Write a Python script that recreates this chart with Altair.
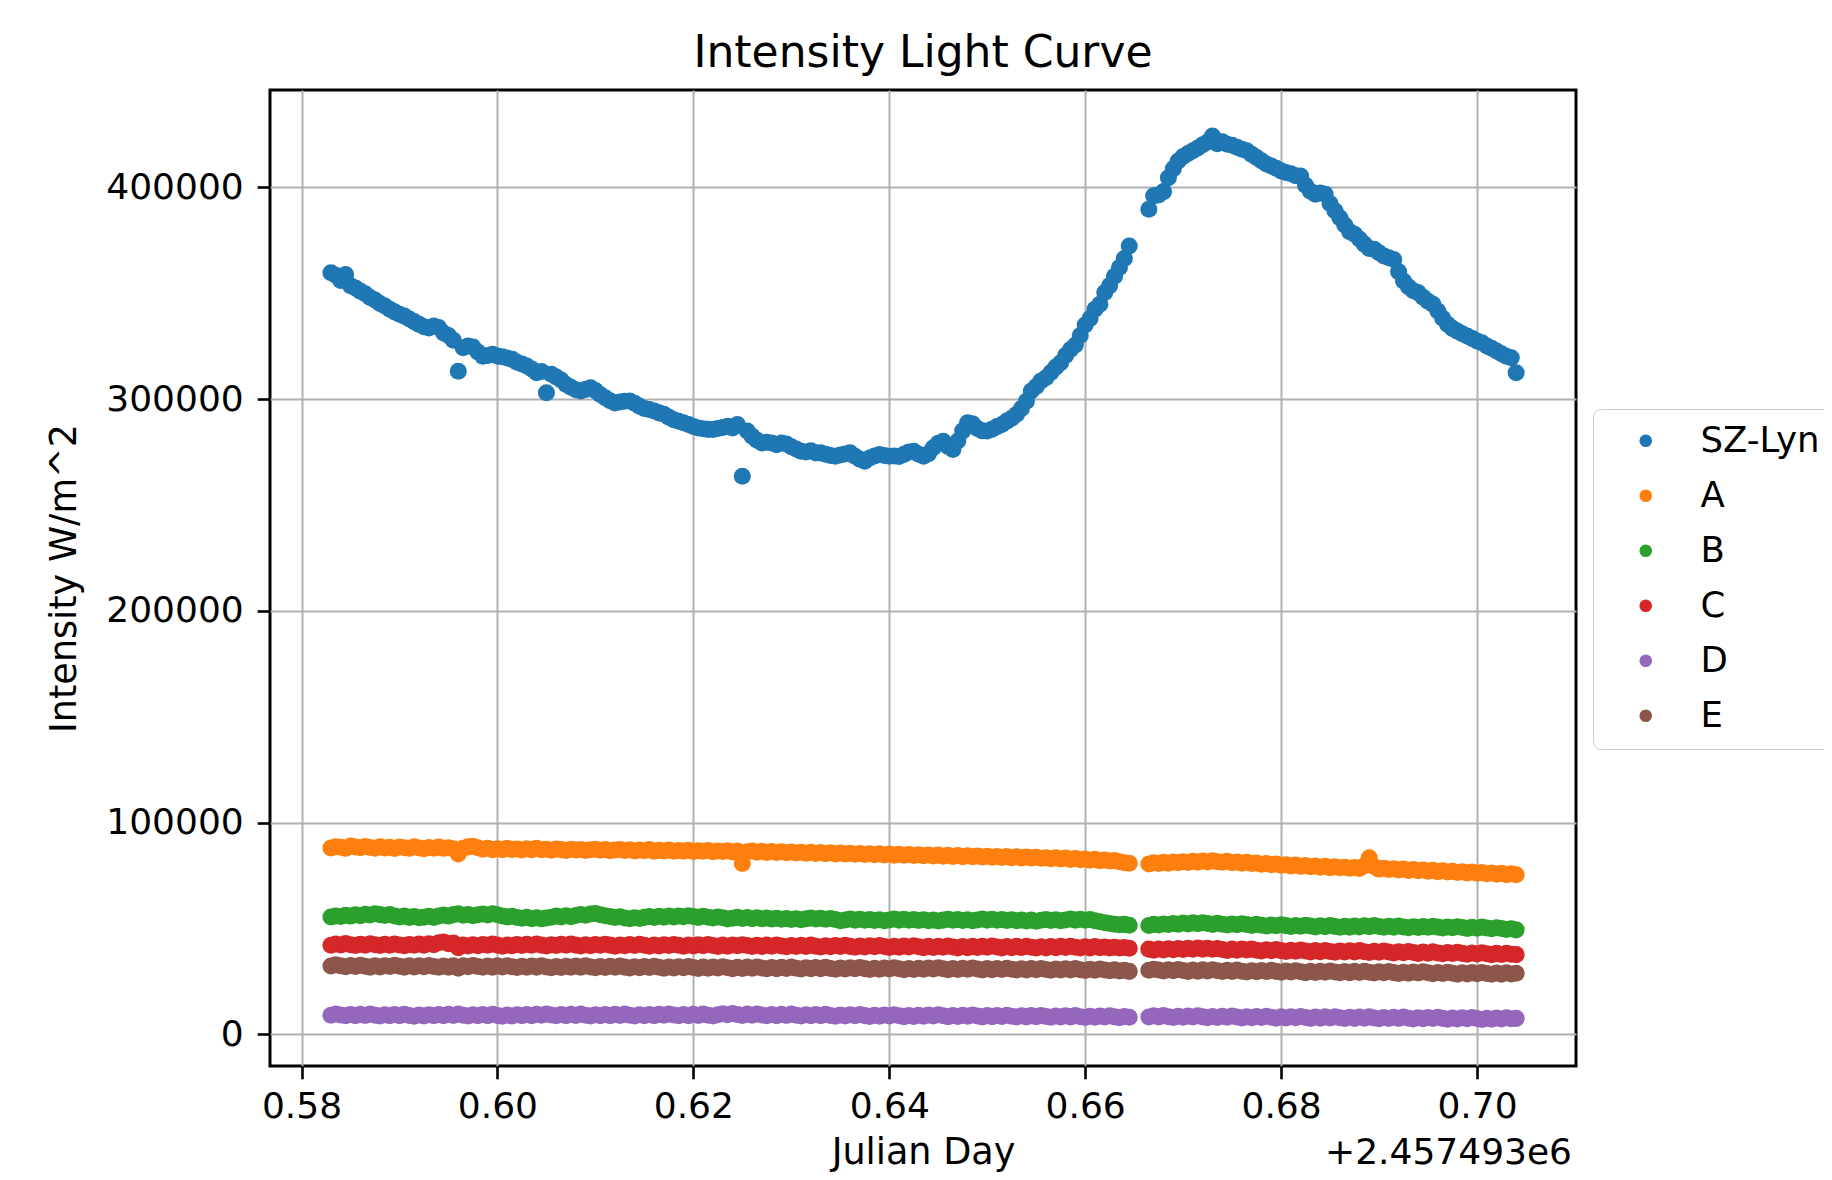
import altair as alt
import pandas as pd

FONT = "DejaVu Sans"

title_text = "Intensity Light Curve"
x_title = "Julian Day"
y_title = "Intensity W/m^2"
offset_label = "+2.457493e6"

series_names = ["SZ-Lyn", "A", "B", "C", "D", "E"]
series_colors = ["#1f77b4", "#ff7f0e", "#2ca02c", "#d62728", "#9467bd", "#8c564b"]

x_ticks = [0.58, 0.60, 0.62, 0.64, 0.66, 0.68, 0.70]
y_ticks = [0, 100000, 200000, 300000, 400000]

# Julian day minus 2457493
julian_day = [
    0.5830, 0.5835, 0.5840, 0.5845, 0.5850, 0.5855, 0.5860, 0.5865, 0.5870, 0.5875,
    0.5880, 0.5885, 0.5890, 0.5895, 0.5900, 0.5905, 0.5910, 0.5915, 0.5920, 0.5925,
    0.5930, 0.5935, 0.5940, 0.5945, 0.5950, 0.5955, 0.5960, 0.5965, 0.5970, 0.5975,
    0.5980, 0.5985, 0.5990, 0.5995, 0.6000, 0.6005, 0.6010, 0.6015, 0.6020, 0.6025,
    0.6030, 0.6035, 0.6040, 0.6045, 0.6050, 0.6055, 0.6060, 0.6065, 0.6070, 0.6075,
    0.6080, 0.6085, 0.6090, 0.6095, 0.6100, 0.6105, 0.6110, 0.6115, 0.6120, 0.6125,
    0.6130, 0.6135, 0.6140, 0.6145, 0.6150, 0.6155, 0.6160, 0.6165, 0.6170, 0.6175,
    0.6180, 0.6185, 0.6190, 0.6195, 0.6200, 0.6205, 0.6210, 0.6215, 0.6220, 0.6225,
    0.6230, 0.6235, 0.6240, 0.6245, 0.6250, 0.6255, 0.6260, 0.6265, 0.6270, 0.6275,
    0.6280, 0.6285, 0.6290, 0.6295, 0.6300, 0.6305, 0.6310, 0.6315, 0.6320, 0.6325,
    0.6330, 0.6335, 0.6340, 0.6345, 0.6350, 0.6355, 0.6360, 0.6365, 0.6370, 0.6375,
    0.6380, 0.6385, 0.6390, 0.6395, 0.6400, 0.6405, 0.6410, 0.6415, 0.6420, 0.6425,
    0.6430, 0.6435, 0.6440, 0.6445, 0.6450, 0.6455, 0.6460, 0.6465, 0.6470, 0.6475,
    0.6480, 0.6485, 0.6490, 0.6495, 0.6500, 0.6505, 0.6510, 0.6515, 0.6520, 0.6525,
    0.6530, 0.6535, 0.6540, 0.6545, 0.6550, 0.6555, 0.6560, 0.6565, 0.6570, 0.6575,
    0.6580, 0.6585, 0.6590, 0.6595, 0.6600, 0.6605, 0.6610, 0.6615, 0.6620, 0.6625,
    0.6630, 0.6635, 0.6640, 0.6645,
    0.6665, 0.6670, 0.6675, 0.6680, 0.6685, 0.6690, 0.6695, 0.6700, 0.6705, 0.6710,
    0.6715, 0.6720, 0.6725, 0.6730, 0.6735, 0.6740, 0.6745, 0.6750, 0.6755, 0.6760,
    0.6765, 0.6770, 0.6775, 0.6780, 0.6785, 0.6790, 0.6795, 0.6800, 0.6805, 0.6810,
    0.6815, 0.6820, 0.6825, 0.6830, 0.6835, 0.6840, 0.6845, 0.6850, 0.6855, 0.6860,
    0.6865, 0.6870, 0.6875, 0.6880, 0.6885, 0.6890, 0.6895, 0.6900, 0.6905, 0.6910,
    0.6915, 0.6920, 0.6925, 0.6930, 0.6935, 0.6940, 0.6945, 0.6950, 0.6955, 0.6960,
    0.6965, 0.6970, 0.6975, 0.6980, 0.6985, 0.6990, 0.6995, 0.7000, 0.7005, 0.7010,
    0.7015, 0.7020, 0.7025, 0.7030, 0.7035, 0.7040,
]

# intensities in thousands of W/m^2
sz_lyn = [
    359.7, 358.5, 356.0, 358.8, 353.5, 352.5, 351.0, 349.8, 348.0, 346.8,
    345.2, 344.0, 342.4, 341.2, 340.1, 339.2, 337.8, 336.6, 335.3, 334.2,
    333.6, 334.5, 333.8, 331.2, 330.0, 327.8, 313.2, 324.3, 325.1, 324.6,
    322.2, 320.3, 320.6, 321.2, 320.3, 320.0, 319.4, 318.8, 317.4, 316.6,
    315.6, 314.2, 312.4, 313.0, 303.0, 311.7, 310.4, 309.0, 306.9, 305.6,
    304.4, 303.8, 304.6, 305.3, 304.0, 302.2, 300.6, 299.2, 298.2, 298.6,
    299.0, 299.1, 298.0, 296.6, 295.6, 295.1, 294.4, 293.5, 292.8, 291.4,
    290.2, 289.5, 288.8, 288.0, 287.1, 286.4, 286.0, 285.7, 285.6, 286.1,
    286.6, 287.2, 286.4, 288.0, 263.6, 284.9, 282.5, 280.6, 279.3, 279.6,
    279.3, 278.4, 279.3, 278.8, 277.5, 276.4, 275.4, 275.0, 275.6, 274.6,
    274.6, 274.0, 273.4, 273.0, 273.6, 274.1, 274.6, 273.0, 271.6, 270.7,
    272.2, 273.1, 273.8, 273.4, 273.0, 273.1, 272.9, 273.9, 275.0, 275.4,
    274.0, 273.0, 274.2, 277.0, 279.1, 280.1, 277.6, 276.2, 280.2, 285.0,
    288.8, 288.4, 286.1, 285.0, 284.9, 285.8, 287.0, 288.0, 289.6, 291.0,
    292.8, 295.6, 299.0, 303.8, 306.0, 308.6, 310.1, 312.6, 315.1, 317.2,
    320.6, 323.4, 325.6, 330.0, 335.0, 338.1, 342.4, 344.8, 350.4, 353.6,
    358.0, 362.2, 366.4, 372.3,
    389.7, 396.0, 396.4, 398.0, 404.6, 408.8, 412.5, 414.6, 416.0, 417.3,
    418.6, 420.1, 421.4, 424.3, 420.6, 421.6, 420.4, 419.9, 419.0, 418.0,
    417.3, 415.6, 414.1, 412.6, 411.0, 410.1, 409.0, 407.8, 407.0, 406.4,
    405.5, 405.4, 401.0, 398.2, 396.8, 397.4, 396.8, 392.4, 389.0, 385.7,
    382.2, 379.1, 377.9, 375.6, 373.2, 371.1, 370.8, 369.1, 367.6, 366.8,
    365.9, 360.2, 355.8, 353.1, 351.2, 350.3, 348.1, 346.2, 344.8, 341.6,
    338.2, 335.3, 333.4, 332.1, 330.9, 329.8, 328.6, 327.4, 326.6, 325.1,
    324.0, 322.7, 321.4, 320.2, 319.5, 312.4,
]

star_a = [
    88.0, 88.6, 88.3, 87.8, 88.9, 88.4, 88.1, 88.7, 88.2, 87.9,
    88.5, 88.0, 88.3, 87.7, 88.4, 88.1, 87.8, 88.6, 88.0, 87.6,
    88.2, 87.9, 88.4, 87.8, 88.1, 87.6, 85.2, 87.9, 88.5, 88.8,
    88.1, 87.4, 87.9, 87.2, 87.6, 87.1, 87.8, 87.3, 87.5, 87.0,
    87.6, 87.2, 87.8, 87.1, 87.4, 86.9, 87.5, 87.2, 86.8, 87.4,
    87.0, 87.3, 86.8, 87.1, 87.4, 86.9, 87.2, 86.7, 87.0, 87.3,
    86.8, 87.1, 86.6, 87.0, 86.7, 87.2, 86.5, 86.9, 86.6, 87.0,
    86.4, 86.8, 86.5, 86.9, 86.3, 86.7, 86.4, 86.8, 86.2, 86.6,
    86.3, 86.7, 86.1, 86.5, 80.6, 86.2, 86.6, 86.0, 86.4, 85.9,
    86.3, 85.8, 86.2, 85.7, 86.1, 85.6, 86.0, 85.5, 85.9, 85.4,
    85.8, 85.3, 85.7, 85.2, 85.6, 85.1, 85.5, 85.0, 85.4, 84.9,
    85.3, 84.8, 85.2, 84.7, 85.1, 84.6, 85.0, 84.5, 84.9, 84.4,
    84.8, 84.3, 84.7, 84.2, 84.6, 84.1, 84.5, 84.0, 84.4, 83.9,
    84.3, 83.8, 84.2, 83.7, 84.1, 83.6, 84.0, 83.5, 83.9, 83.4,
    83.8, 83.3, 83.7, 83.2, 83.6, 83.1, 83.4, 82.9, 83.3, 82.8,
    83.2, 82.6, 83.0, 82.4, 82.8, 82.2, 82.6, 82.0, 82.3, 81.8,
    82.1, 81.5, 81.0, 80.8,
    80.4, 81.0, 80.6, 81.2, 80.8, 81.4, 81.0, 81.5, 81.1, 81.7,
    81.3, 81.8, 81.4, 81.9, 81.5, 81.2, 81.7, 81.0, 81.4, 80.8,
    81.2, 80.6, 80.9, 80.3, 80.7, 80.1, 80.4, 79.8, 80.1, 79.5,
    79.9, 79.3, 79.7, 79.1, 79.5, 78.9, 79.3, 78.7, 79.1, 78.6,
    78.9, 78.4, 78.8, 78.3, 79.6, 83.4, 79.2, 78.0, 78.4, 77.8,
    78.2, 77.6, 78.0, 77.4, 77.8, 77.2, 77.6, 77.0, 77.4, 76.8,
    77.2, 76.6, 77.0, 76.4, 76.8, 76.2, 76.6, 76.0, 76.4, 75.8,
    76.2, 75.6, 76.0, 75.4, 75.8, 75.3,
]

star_b = [
    55.4, 55.9, 55.6, 56.2, 55.8, 56.4, 56.0, 56.7, 56.3, 56.9,
    56.5, 56.1, 56.6, 55.9, 55.4, 55.8, 55.2, 55.6, 55.0, 55.3,
    55.7, 55.2, 55.9, 56.3, 55.8, 56.5, 56.9, 56.2, 56.6, 56.0,
    56.4, 56.8, 56.3, 56.9, 56.4, 55.9, 55.4, 55.7, 55.1, 54.8,
    55.2, 54.6, 55.0, 54.5, 54.9, 55.3, 55.8, 55.4, 56.0, 55.5,
    56.1, 56.6, 56.2, 56.8, 57.0, 56.4, 56.0, 55.6, 55.1, 55.5,
    54.9, 54.6, 55.0, 54.7, 55.2, 55.6, 55.1, 55.7, 55.3, 55.8,
    55.4, 55.9, 55.5, 56.0, 55.6, 55.2, 55.7, 55.3, 54.9, 55.4,
    55.0, 54.4, 54.8, 55.2, 54.7, 55.1, 54.6, 55.0, 54.5, 54.9,
    54.4, 54.8, 54.3, 54.7, 54.2, 54.6, 54.1, 54.5, 54.9, 54.4,
    54.8, 54.3, 54.7, 54.2, 53.6, 54.0, 54.4, 53.9, 54.3, 53.8,
    54.2, 53.7, 54.1, 53.6, 54.0, 54.4, 53.9, 54.3, 53.8, 54.2,
    53.7, 54.1, 53.6, 54.0, 53.5, 53.9, 54.3, 53.8, 54.2, 53.7,
    54.1, 53.6, 54.0, 54.4, 53.9, 54.3, 53.8, 54.2, 53.7, 54.1,
    53.6, 54.0, 53.5, 53.9, 53.4, 53.8, 54.2, 53.7, 54.1, 53.6,
    54.0, 54.4, 53.9, 54.3, 53.8, 54.2, 53.6, 53.1, 52.7, 52.3,
    52.0, 51.7, 51.9, 51.5,
    51.4, 51.9, 51.6, 52.1, 51.8, 52.3, 52.0, 52.5, 52.1, 52.6,
    52.2, 52.7, 52.3, 51.9, 52.4, 52.0, 51.6, 52.1, 51.7, 52.2,
    51.8, 51.4, 51.9, 51.5, 51.1, 51.6, 51.2, 51.7, 51.3, 50.9,
    51.4, 51.0, 51.5, 51.1, 50.7, 51.2, 50.8, 51.3, 50.9, 50.5,
    51.0, 50.6, 51.1, 50.7, 51.2, 50.8, 51.3, 50.9, 50.5, 51.0,
    50.6, 51.1, 50.7, 50.3, 50.8, 50.4, 50.9, 50.5, 51.0, 50.6,
    50.2, 50.7, 50.3, 50.8, 50.4, 50.0, 50.5, 50.1, 50.6, 50.2,
    49.8, 50.3, 49.9, 49.5, 49.8, 49.3,
]

star_c = [
    42.0, 42.6, 42.2, 42.8, 42.3, 41.9, 42.5, 42.1, 42.7, 42.3,
    41.9, 42.5, 42.0, 42.6, 42.2, 41.8, 42.4, 42.0, 42.6, 42.1,
    42.7, 42.3, 43.2, 43.6, 42.8, 43.1, 40.9, 42.2, 41.7, 42.3,
    41.8, 42.4, 42.0, 42.6, 42.1, 41.6, 42.2, 41.8, 42.4, 41.9,
    42.5, 42.0, 42.6, 42.1, 41.7, 42.3, 41.9, 42.5, 42.0, 42.6,
    42.1, 41.7, 42.3, 41.8, 42.4, 42.0, 42.5, 42.1, 41.6, 42.2,
    41.8, 42.4, 41.9, 42.5, 42.0, 41.6, 42.2, 41.7, 42.3, 41.9,
    42.4, 42.0, 41.6, 42.2, 41.7, 42.3, 41.8, 42.4, 41.9, 41.5,
    42.1, 41.6, 42.2, 41.8, 42.3, 41.9, 41.4, 42.0, 41.5, 42.1,
    41.6, 42.2, 41.7, 41.3, 41.9, 41.4, 42.0, 41.5, 42.1, 41.6,
    41.2, 41.8, 41.3, 41.9, 41.4, 42.0, 41.5, 41.1, 41.7, 41.2,
    41.8, 41.3, 41.9, 41.4, 41.0, 41.6, 41.1, 41.7, 41.2, 41.8,
    41.3, 40.9, 41.5, 41.0, 41.6, 41.1, 41.7, 41.2, 40.8, 41.4,
    40.9, 41.5, 41.0, 41.6, 41.1, 41.7, 41.2, 40.8, 41.4, 40.9,
    41.5, 41.0, 41.6, 41.1, 40.7, 41.3, 40.8, 41.4, 40.9, 41.5,
    41.0, 41.6, 41.1, 40.7, 41.3, 40.8, 41.4, 40.9, 41.2, 40.8,
    41.1, 40.7, 41.0, 40.6,
    40.2, 39.7, 40.3, 39.8, 40.4, 39.9, 40.5, 40.0, 40.6, 40.1,
    40.7, 40.2, 40.6, 40.1, 40.5, 40.0, 39.6, 40.2, 39.7, 40.3,
    39.8, 40.2, 39.7, 39.3, 39.9, 39.4, 40.0, 39.5, 39.1, 39.7,
    39.2, 39.8, 39.3, 38.9, 39.5, 39.0, 39.6, 39.1, 38.7, 39.3,
    38.8, 39.4, 38.9, 39.5, 39.0, 38.6, 39.2, 38.7, 39.3, 38.8,
    38.4, 39.0, 38.5, 39.1, 38.6, 38.2, 38.8, 38.3, 38.9, 38.4,
    38.0, 38.6, 38.1, 38.7, 38.2, 37.8, 38.4, 37.9, 38.5, 38.0,
    37.6, 38.2, 37.7, 38.3, 37.8, 37.6,
]

star_d = [
    9.0, 9.6, 9.1, 8.7, 9.3, 8.8, 9.4, 8.9, 9.5, 9.0,
    8.6, 9.2, 8.7, 9.3, 8.8, 9.4, 8.9, 8.5, 9.1, 8.6,
    9.2, 8.7, 9.3, 8.8, 9.4, 8.9, 9.5, 9.0, 8.6, 9.2,
    8.7, 9.3, 8.8, 9.4, 8.9, 8.5, 9.1, 8.6, 9.2, 8.7,
    9.3, 8.8, 9.4, 9.0, 9.6, 9.1, 8.7, 9.3, 8.8, 9.4,
    8.9, 9.5, 9.0, 8.6, 9.2, 8.7, 9.3, 8.8, 9.4, 8.9,
    9.5, 9.0, 8.6, 9.2, 8.7, 9.3, 8.8, 9.4, 9.0, 9.6,
    9.1, 8.7, 9.3, 8.8, 9.4, 8.9, 9.5, 9.0, 8.6, 9.2,
    9.7, 9.2, 9.8, 9.3, 8.9, 9.5, 9.0, 9.6, 9.1, 8.7,
    9.3, 8.8, 9.4, 8.9, 9.5, 9.0, 8.6, 9.2, 8.7, 9.3,
    8.8, 9.4, 8.9, 8.5, 9.1, 8.6, 9.2, 8.7, 9.3, 8.8,
    8.4, 9.0, 8.5, 9.1, 8.6, 9.2, 8.7, 8.3, 8.9, 8.4,
    9.0, 8.5, 9.1, 8.6, 9.2, 8.7, 8.3, 8.9, 8.4, 9.0,
    8.5, 9.1, 8.6, 8.2, 8.8, 8.3, 8.9, 8.4, 9.0, 8.5,
    8.1, 8.7, 8.2, 8.8, 8.3, 8.9, 8.4, 8.0, 8.6, 8.1,
    8.7, 8.2, 8.8, 8.3, 7.9, 8.5, 8.0, 8.6, 8.1, 8.7,
    8.2, 7.8, 8.4, 8.0,
    8.1, 8.7, 8.2, 8.8, 8.3, 7.9, 8.5, 8.0, 8.6, 8.1,
    8.7, 8.2, 7.8, 8.4, 7.9, 8.5, 8.0, 8.6, 8.1, 7.7,
    8.3, 7.8, 8.4, 7.9, 8.5, 8.0, 7.6, 8.2, 7.7, 8.3,
    7.8, 8.4, 7.9, 7.5, 8.1, 7.6, 8.2, 7.7, 8.3, 7.8,
    7.4, 8.0, 7.5, 8.1, 7.6, 8.2, 7.7, 7.3, 7.9, 7.4,
    8.0, 7.5, 8.1, 7.6, 7.2, 7.8, 7.3, 7.9, 7.4, 8.0,
    7.5, 7.1, 7.7, 7.2, 7.8, 7.3, 7.9, 7.4, 7.0, 7.6,
    7.1, 7.7, 7.2, 7.8, 7.3, 7.5,
]

star_e = [
    32.2, 32.8, 32.3, 31.9, 32.5, 32.0, 32.6, 32.1, 31.7, 32.3,
    31.8, 32.4, 32.0, 32.6, 32.1, 31.7, 32.3, 31.8, 32.4, 31.9,
    32.5, 32.0, 31.6, 32.2, 31.7, 32.3, 31.2, 32.4, 31.9, 32.5,
    32.0, 31.6, 32.2, 31.7, 32.3, 31.8, 32.4, 31.9, 31.5, 32.1,
    31.6, 32.2, 31.7, 32.3, 31.8, 31.4, 32.0, 31.5, 32.1, 31.6,
    32.2, 31.7, 32.3, 31.8, 31.4, 32.0, 31.5, 32.1, 31.6, 32.2,
    31.7, 31.3, 31.9, 31.4, 32.0, 31.5, 32.1, 31.6, 31.2, 31.8,
    31.3, 31.9, 31.4, 32.0, 31.5, 31.1, 31.7, 31.2, 31.8, 31.3,
    31.9, 31.4, 31.0, 31.6, 31.1, 31.7, 31.2, 31.8, 31.3, 30.9,
    31.5, 31.0, 31.6, 31.1, 31.7, 31.2, 30.8, 31.4, 30.9, 31.5,
    31.0, 31.6, 31.1, 30.7, 31.3, 30.8, 31.4, 30.9, 31.5, 31.0,
    30.6, 31.2, 30.7, 31.3, 30.8, 31.4, 30.9, 30.5, 31.1, 30.6,
    31.2, 30.7, 31.3, 30.8, 31.4, 30.9, 30.5, 31.1, 30.6, 31.2,
    30.7, 31.3, 30.8, 30.4, 31.0, 30.5, 31.1, 30.6, 31.2, 30.7,
    30.3, 30.9, 30.4, 31.0, 30.5, 31.1, 30.6, 30.2, 30.8, 30.3,
    30.9, 30.4, 31.0, 30.5, 30.1, 30.7, 30.2, 30.8, 30.3, 30.0,
    30.4, 29.9, 30.2, 29.7,
    30.2, 30.7, 30.3, 29.9, 30.5, 30.0, 30.6, 30.1, 29.7, 30.3,
    29.8, 30.4, 29.9, 30.5, 30.0, 29.6, 30.2, 29.7, 30.3, 29.8,
    29.4, 30.0, 29.5, 30.1, 29.6, 30.2, 29.7, 29.3, 29.9, 29.4,
    30.0, 29.5, 29.1, 29.7, 29.2, 29.8, 29.3, 29.9, 29.4, 29.0,
    29.6, 29.1, 29.7, 29.2, 29.8, 29.3, 28.9, 29.5, 29.0, 29.6,
    29.1, 28.7, 29.3, 28.8, 29.4, 28.9, 29.5, 29.0, 28.6, 29.2,
    28.7, 29.3, 28.8, 28.4, 29.0, 28.5, 29.1, 28.6, 29.2, 28.7,
    28.3, 28.9, 28.4, 29.0, 28.5, 28.8,
]

series_values = [sz_lyn, star_a, star_b, star_c, star_d, star_e]

rows = []
idx = 0
for name, vals in zip(series_names, series_values):
    assert len(vals) == len(julian_day), (name, len(vals), len(julian_day))
    for jd, v in zip(julian_day, vals):
        rows.append({"jd": jd, "intensity": v * 1000.0, "series": name, "idx": idx})
        idx += 1
df = pd.DataFrame(rows)

W, H = 1306, 976

points = alt.Chart(df).mark_circle(size=290, opacity=1).encode(
    x=alt.X(
        "jd:Q",
        scale=alt.Scale(domain=[0.57678, 0.71011], nice=False, zero=False),
        axis=alt.Axis(values=x_ticks, format=".2f", title=x_title),
    ),
    y=alt.Y(
        "intensity:Q",
        scale=alt.Scale(domain=[-15000, 446000], nice=False, zero=False),
        axis=alt.Axis(values=y_ticks, format="d", title=y_title),
    ),
    color=alt.Color(
        "series:N",
        scale=alt.Scale(domain=series_names, range=series_colors),
        legend=alt.Legend(
            title=None,
            orient="none",
            legendX=1323,
            legendY=319,
            labelFont=FONT,
            labelFontSize=35.5,
            labelColor="black",
            labelLimit=400,
            symbolType="circle",
            symbolSize=160,
            symbolStrokeWidth=0,
            symbolOpacity=1,
            padding=14,
            rowPadding=18,
            symbolOffset=21,
            labelOffset=37,
            strokeColor="#cccccc",
            fillColor="white",
            cornerRadius=8,
        ),
    ),
    order=alt.Order("idx:Q"),
)

offset_text = alt.Chart(pd.DataFrame({"t": [offset_label]})).mark_text(
    align="right", baseline="alphabetic", font=FONT, fontSize=36, color="black"
).encode(text="t:N", x=alt.value(W - 4), y=alt.value(1074))

chart = alt.layer(points, offset_text).properties(
    width=W,
    height=H,
    title=alt.TitleParams(
        text=title_text,
        font=FONT,
        fontSize=44,
        fontWeight="normal",
        color="black",
        anchor="middle",
        baseline="alphabetic",
        offset=22,
        dy=43,
    ),
    autosize=alt.AutoSizeParams(type="none"),
    padding={"left": 262, "top": 82, "right": 248, "bottom": 106},
).configure(font=FONT, background="white").configure_view(
    stroke="black", strokeWidth=3
).configure_axis(
    labelFont=FONT,
    labelFontSize=36,
    labelColor="black",
    titleFont=FONT,
    titleFontSize=36.6,
    titleFontWeight="normal",
    titleColor="black",
    tickColor="black",
    tickSize=12.8,
    tickWidth=2.6,
    domain=False,
    grid=True,
    gridColor="#b0b0b0",
    gridWidth=2,
    labelFlush=False,
    labelOverlap=False,
    zindex=1,
).configure_axisX(
    labelPadding=11, titlePadding=10
).configure_axisY(
    labelPadding=14, titlePadding=22
)

chart.save("out.html", embed_options={"renderer": "svg", "actions": False})
